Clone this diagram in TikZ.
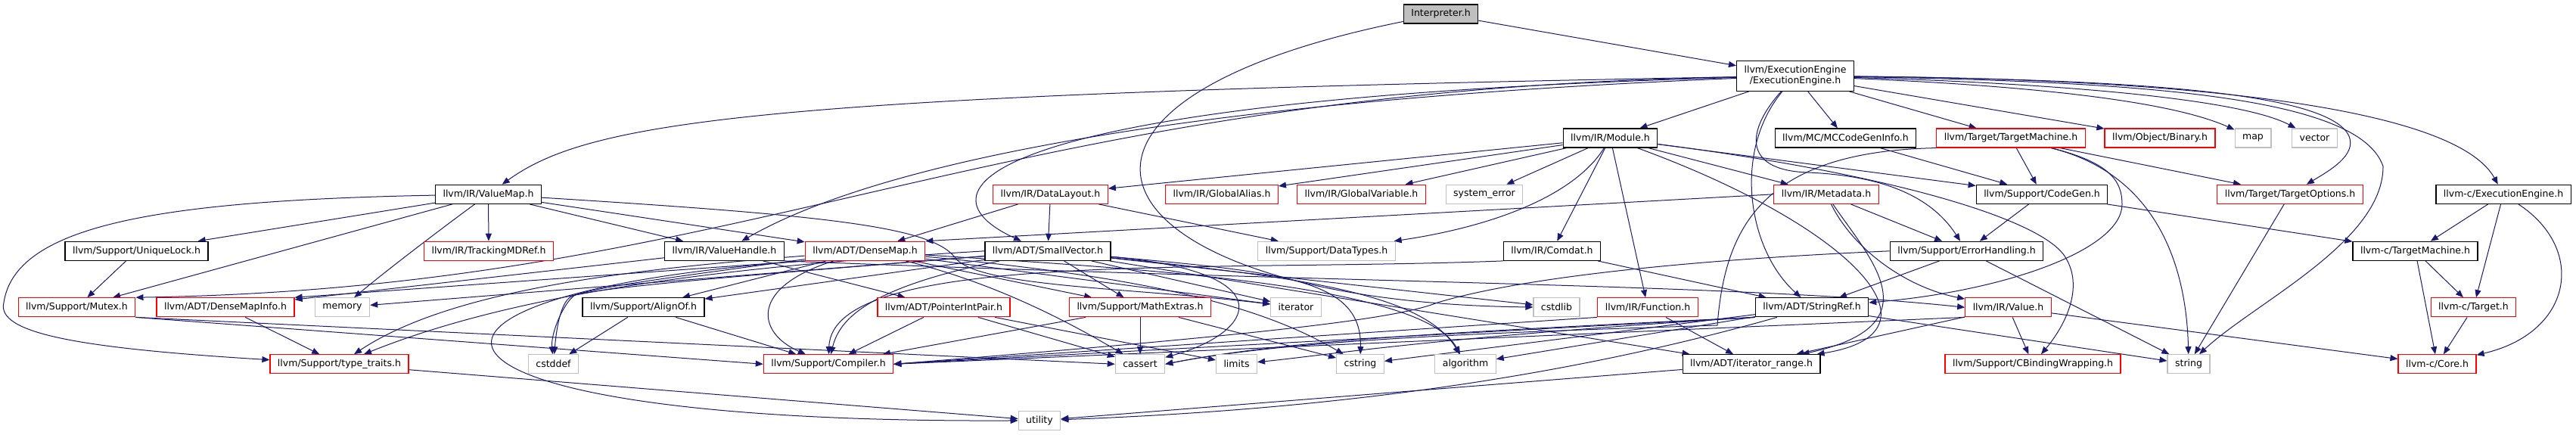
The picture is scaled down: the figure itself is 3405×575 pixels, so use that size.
\documentclass[tikz,border=0pt]{standalone}
\usepackage{fontspec}
\setmainfont{DejaVu Sans}
\usetikzlibrary{arrows.meta}
\definecolor{edgeblue}{HTML}{191970}
\definecolor{extgray}{HTML}{BFBFBF}
\pgfdeclarelayer{edges}
\pgfsetlayers{edges,main}

\begin{document}
\begin{tikzpicture}[x=1pt,y=-1pt,>={Triangle[length=10pt,width=8pt]},
  hfile/.style={draw,fill=white,line width=1.2pt,inner xsep=10pt,inner ysep=0pt,minimum height=25pt,font=\fontsize{12.5}{14}\selectfont},
  hdr/.style={hfile,draw=black},
  trunc/.style={hfile,draw=red},
  ext/.style={hfile,draw=extgray},
  root/.style={hfile,draw=black,fill=extgray},
  dep/.style={->,draw=edgeblue,line width=1pt}]
  \useasboundingbox (0,0) rectangle (3405,575);

  \node[root] (interp) at (1904.5,18.5) {Interpreter.h};
  \node[hdr,align=center,minimum height=40pt] (ee) at (2373,100.3) {llvm/ExecutionEngine\\/ExecutionEngine.h};

  \node[hdr] (module) at (2128.5,182.5) {llvm/IR/Module.h};
  \node[hdr] (mccg) at (2439.5,182.5) {llvm/MC/MCCodeGenInfo.h};
  \node[trunc] (tm) at (2658,182.5) {llvm/Target/TargetMachine.h};
  \node[trunc] (binary) at (2855,182.5) {llvm/Object/Binary.h};
  \node[ext] (stdmap) at (2978,182.5) {map};
  \node[ext] (stdvec) at (3059.5,182.5) {vector};

  \node[hdr] (vmap) at (645.5,256.8) {llvm/IR/ValueMap.h};
  \node[trunc] (dlayout) at (1388.5,256.8) {llvm/IR/DataLayout.h};
  \node[trunc] (galias) at (1615,256.8) {llvm/IR/GlobalAlias.h};
  \node[trunc] (gvar) at (1799.5,256.8) {llvm/IR/GlobalVariable.h};
  \node[ext] (syserr) at (1962,256.8) {system\_error};
  \node[trunc] (mdata) at (2414,256.8) {llvm/IR/Metadata.h};
  \node[hdr] (codegen) at (2699,256.8) {llvm/Support/CodeGen.h};
  \node[trunc] (topts) at (3027,256.8) {llvm/Target/TargetOptions.h};
  \node[hdr] (cee) at (3309,256.8) {llvm-c/ExecutionEngine.h};

  \node[hdr] (ulock) at (180.5,331.8) {llvm/Support/UniqueLock.h};
  \node[trunc] (tmdref) at (646,331.8) {llvm/IR/TrackingMDRef.h};
  \node[hdr] (vhandle) at (957.5,331.8) {llvm/IR/ValueHandle.h};
  \node[trunc] (dmap) at (1143.5,331.8) {llvm/ADT/DenseMap.h};
  \node[hdr] (svec) at (1385,331.8) {llvm/ADT/SmallVector.h};
  \node[ext] (dtypes) at (1753.5,331.8) {llvm/Support/DataTypes.h};
  \node[hdr] (comdat) at (2051.5,331.8) {llvm/IR/Comdat.h};
  \node[hdr] (errh) at (2599.5,331.8) {llvm/Support/ErrorHandling.h};
  \node[hdr] (ctm) at (3192.5,331.8) {llvm-c/TargetMachine.h};

  \node[trunc] (mutex) at (101.5,406.3) {llvm/Support/Mutex.h};
  \node[trunc] (dminfo) at (298,406.3) {llvm/ADT/DenseMapInfo.h};
  \node[ext] (mem) at (452.5,406.3) {memory};
  \node[hdr] (alignof) at (850.5,406.3) {llvm/Support/AlignOf.h};
  \node[trunc] (pip) at (1247.5,406.3) {llvm/ADT/PointerIntPair.h};
  \node[trunc] (mathx) at (1507,406.3) {llvm/Support/MathExtras.h};
  \node[ext] (iter) at (1713,406.3) {iterator};
  \node[ext] (cstdlib) at (2057.5,406.3) {cstdlib};
  \node[trunc] (func) at (2178,406.3) {llvm/IR/Function.h};
  \node[hdr] (sref) at (2395,406.3) {llvm/ADT/StringRef.h};
  \node[trunc] (value) at (2654.5,406.3) {llvm/IR/Value.h};
  \node[trunc] (ctarget) at (3269.5,406.3) {llvm-c/Target.h};

  \node[trunc] (ttraits) at (448.5,481.3) {llvm/Support/type\_traits.h};
  \node[ext] (cstddef) at (731.5,481.3) {cstddef};
  \node[trunc] (compiler) at (1095,481.3) {llvm/Support/Compiler.h};
  \node[ext] (cassert) at (1507,481.3) {cassert};
  \node[ext] (lim) at (1634.5,481.3) {limits};
  \node[ext] (cstring) at (1798,481.3) {cstring};
  \node[ext] (algo) at (1937,481.3) {algorithm};
  \node[hdr] (irange) at (2315,481.3) {llvm/ADT/iterator\_range.h};
  \node[trunc] (cbw) at (2687,481.3) {llvm/Support/CBindingWrapping.h};
  \node[ext] (stdstr) at (2893,481.3) {string};
  \node[trunc] (ccore) at (3221.5,481.3) {llvm-c/Core.h};

  \node[ext] (util) at (1374,555.8) {utility};

  \begin{pgfonlayer}{edges}
  \draw[dep] (interp) -- (ee);
  \draw[dep] (interp) .. controls (1300,140) and (1450,400) .. (cstdlib);

  \draw[dep] (ee) .. controls (1000,125) and (780,160) .. (vmap);
  \draw[dep] (ee) .. controls (1300,120) and (1000,380) .. (mutex.north east);
  \draw[dep] (ee) .. controls (1400,140) and (1100,250) .. (vhandle);
  \draw[dep] (ee) .. controls (1300,130) and (1200,250) .. ([xshift=-35pt]svec.north);
  \draw[dep] (ee) -- (module);
  \draw[dep] (ee) .. controls (2290,200) and (2310,330) .. (sref);
  \draw[dep] (ee) .. controls (2310,170) and (2300,225) .. (2390,228) .. controls (2480,232) and (2550,255) .. (errh);
  \draw[dep] (ee) -- (mccg);
  \draw[dep] (ee) -- (tm);
  \draw[dep] (ee) -- (binary);
  \draw[dep] (ee) .. controls (2600,110) and (2850,125) .. (stdmap);
  \draw[dep] (ee) .. controls (2650,108) and (2950,125) .. (stdvec);
  \draw[dep] (ee) .. controls (2850,105) and (3080,125) .. (3105,180) .. controls (3115,205) and (3080,225) .. (topts);
  \draw[dep] (ee) .. controls (2850,108) and (3120,130) .. (3150,220) .. controls (3150,320) and (2980,400) .. (stdstr);
  \draw[dep] (ee) .. controls (2950,105) and (3250,150) .. (cee);

  \draw[dep] (module) -- (dlayout);
  \draw[dep] (module) -- (galias);
  \draw[dep] (module) -- (gvar);
  \draw[dep] (module) -- (syserr);
  \draw[dep] (module) .. controls (2080,260) and (1970,300) .. (dtypes);
  \draw[dep] (module) -- (comdat);
  \draw[dep] (module) -- (func);
  \draw[dep] (module) .. controls (2450,300) and (2580,440) .. ([xshift=-5pt]irange.north east);
  \draw[dep] (module) -- (mdata);
  \draw[dep] (module) -- (codegen);
  \draw[dep] (module) .. controls (2500,230) and (2700,290) .. (2730,340) .. controls (2755,380) and (2730,430) .. (cbw);

  \draw[dep] (vmap) .. controls (200,265) and (20,300) .. (5,400) .. controls (-5,440) and (100,460) .. (ttraits);
  \draw[dep] (vmap) -- (ulock);
  \draw[dep] (vmap) -- (mutex);
  \draw[dep] (vmap) .. controls (600,290) and (520,350) .. (mem);
  \draw[dep] (vmap) -- (tmdref);
  \draw[dep] (vmap) -- (vhandle);
  \draw[dep] (vmap) -- (dmap);
  \draw[dep] (vmap) .. controls (1100,285) and (1230,300) .. (1262,340) .. controls (1290,380) and (1500,380) .. (iter);
  \draw[dep] (ulock) -- (mutex);

  \draw[dep] (dlayout) -- (dmap);
  \draw[dep] (dlayout) -- (svec);
  \draw[dep] (dlayout) -- (dtypes);

  \draw[dep] (mdata.west) -- (dmap.north east);
  \draw[dep] (mdata) .. controls (2470,340) and (2560,430) .. ([xshift=-25pt]irange.north east);
  \draw[dep] (mdata) .. controls (2450,330) and (2520,380) .. (value);
  \draw[dep] (mdata) -- (errh);

  \draw[dep] (mccg) -- (codegen);
  \draw[dep] (tm) -- (codegen);
  \draw[dep] (tm) -- (topts);
  \draw[dep] (tm) .. controls (2790,215) and (2805,240) .. (2805,270) .. controls (2805,330) and (2650,385) .. (sref);
  \draw[dep] (tm) .. controls (2850,230) and (2890,350) .. (stdstr);
  \draw[dep] (tm.south west) .. controls (2330,200) and (2280,300) .. (2270,430) .. controls (1950,440) and (1700,450) .. (cassert.east);
  \draw[dep] (codegen) -- (errh);
  \draw[dep] (codegen) -- (ctm);
  \draw[dep] (topts) -- (stdstr);
  \draw[dep] (cee) -- (ctm);
  \draw[dep] (cee) -- (ctarget);
  \draw[dep] (cee) .. controls (3420,330) and (3400,440) .. (ccore);
  \draw[dep] (ctm) -- (ctarget);
  \draw[dep] (ctm) -- (ccore);
  \draw[dep] (ctarget) -- (ccore);

  \draw[dep] (vhandle) -- (dminfo);
  \draw[dep] (vhandle) -- (pip);
  \draw[dep] (vhandle.south east) .. controls (1800,375) and (2300,375) .. (value.west);

  \draw[dep] (dmap.south west) -- (dminfo.north east);
  \draw[dep] (dmap) .. controls (850,355) and (600,380) .. (ttraits);
  \draw[dep] (dmap) -- (alignof);
  \draw[dep] (dmap) .. controls (990,380) and (1000,440) .. (compiler);
  \draw[dep] (dmap) -- (mathx);
  \draw[dep] (dmap) .. controls (1320,375) and (1420,430) .. (cassert);
  \draw[dep] (dmap) .. controls (900,365) and (780,380) .. (755,392) .. controls (740,400) and (735,440) .. (cstddef);
  \draw[dep] (dmap) .. controls (1500,365) and (1660,400) .. (cstring);
  \draw[dep] (dmap) -- (iter);
  \draw[dep] (dmap) .. controls (1500,355) and (1880,375) .. (algo);
  \draw[dep] (dmap.south west) .. controls (450,390) and (500,560) .. (util);

  \draw[dep] (svec) -- (alignof);
  \draw[dep] (svec) .. controls (1150,380) and (1110,420) .. (compiler);
  \draw[dep] (svec) -- (mathx);
  \draw[dep] (svec.west) .. controls (1000,350) and (700,380) .. (ttraits);
  \draw[dep] (svec) .. controls (1100,355) and (800,378) .. (760,390) .. controls (745,400) and (728,440) .. (cstddef);
  \draw[dep] (svec) -- (mem);
  \draw[dep] (svec) -- (iter);
  \draw[dep] (svec) -- (cstdlib);
  \draw[dep] (svec) .. controls (1700,360) and (1800,370) .. (cstring);
  \draw[dep] (svec) .. controls (1700,365) and (1880,385) .. (algo);
  \draw[dep] (svec) .. controls (1700,360) and (1660,440) .. (cassert);
  \draw[dep] (svec) -- (irange);

  \draw[dep] (comdat) -- (sref);
  \draw[dep] (comdat.south west) .. controls (1600,360) and (1100,330) .. (compiler);
  \draw[dep] (errh) -- (sref);
  \draw[dep] (errh.west) .. controls (2200,345) and (2000,370) .. (1900,400) .. controls (1850,420) and (1700,440) .. (compiler.east);
  \draw[dep] (errh) -- (stdstr);
  \draw[dep] (sref.south west) -- (compiler.east);
  \draw[dep] (sref) -- (cstring);
  \draw[dep] (sref) -- (algo);
  \draw[dep] (sref.south west) .. controls (1900,440) and (1700,450) .. (cassert.east);
  \draw[dep] (sref.south west) .. controls (1900,445) and (1750,470) .. (lim);
  \draw[dep] (sref) -- (stdstr);
  \draw[dep] (sref) .. controls (2100,490) and (1800,540) .. (util);
  \draw[dep] (func) -- (irange);
  \draw[dep] (func.south west) -- (compiler.east);
  \draw[dep] (value) -- (ccore);
  \draw[dep] (value) -- (cbw);
  \draw[dep] (value) -- (irange);
  \draw[dep] (value.south west) -- (compiler.east);

  \draw[dep] (mutex.south east) -- (compiler.west);
  \draw[dep] (mutex.south east) -- (cassert.west);
  \draw[dep] (dminfo) -- (ttraits);
  \draw[dep] (alignof) -- (compiler);
  \draw[dep] (alignof) -- (cstddef);
  \draw[dep] (pip) -- (compiler);
  \draw[dep] (pip) -- (cassert);
  \draw[dep] (pip) -- (lim);
  \draw[dep] (mathx) -- (compiler);
  \draw[dep] (mathx) -- (cassert);
  \draw[dep] (mathx) -- (cstring);
  \draw[dep] (ttraits) -- (util);
  \draw[dep] (irange) -- (util);
  \end{pgfonlayer}
\end{tikzpicture}
\end{document}
